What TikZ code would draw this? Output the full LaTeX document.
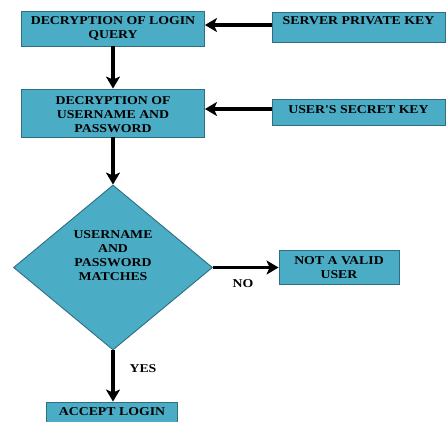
\documentclass[tikz,border=0pt]{standalone}
\usepackage{fontspec}
\usetikzlibrary{shapes.geometric,arrows.meta}
\newfontfamily\flowfont{Liberation Serif}[FakeStretch=1.15]
\definecolor{boxfill}{HTML}{4BACC6}
\definecolor{boxline}{HTML}{2F6E80}
% text block raised by #1 above the node centre (last baseline)
\newcommand{\blocktext}[2]{\raisebox{#1}[0pt][0pt]{\begin{tabular}[b]{@{}c@{}}#2\end{tabular}}}
\tikzset{
  box/.style={draw=boxline, fill=boxfill, line width=0.9pt, inner sep=0pt,
    font=\flowfont\bfseries\fontsize{12}{14}\selectfont},
  decision/.style={diamond, draw=boxline, fill=boxfill, line width=0.9pt, inner sep=0pt,
    minimum width=199pt, minimum height=165pt,
    font=\flowfont\bfseries\fontsize{12}{14}\selectfont},
  flow/.style={line width=3.4pt, -{Stealth[length=12pt,width=14pt,inset=3pt]}},
  tag/.style={font=\flowfont\bfseries\fontsize{12}{14}\selectfont, inner sep=0pt}
}
\begin{document}
\begin{tikzpicture}[x=1pt,y=-1pt]
\useasboundingbox (0,0) rectangle (446,421);

\node[box, minimum width=183pt, minimum height=35pt] (query) at (113,28.5)
  {\blocktext{-10.2pt}{DECRYPTION OF LOGIN\\QUERY}};
\node[box, minimum width=173pt, minimum height=30pt] (skey) at (358.5,27)
  {\blocktext{2.2pt}{SERVER PRIVATE KEY}};
\node[box, minimum width=183pt, minimum height=48pt] (cred) at (113,113)
  {\blocktext{-19.5pt}{DECRYPTION OF\\USERNAME AND\\PASSWORD}};
\node[box, minimum width=173pt, minimum height=26pt] (ukey) at (358.5,112)
  {\blocktext{-1.2pt}{USER'S SECRET KEY}};
\node[decision] (match) at (113,267.5)
  {\blocktext{-13pt}{USERNAME\\AND\\PASSWORD\\MATCHES}};
\node[box, minimum width=120pt, minimum height=34pt] (invalid) at (339,267)
  {\blocktext{-11pt}{NOT A VALID\\USER}};
\node[box, minimum width=131pt, minimum height=30pt] (accept) at (112,417)
  {\blocktext{2pt}{ACCEPT LOGIN}};

\node[tag] (no) at (243,283.5) {NO};
\node[tag] (yes) at (143,368.5) {YES};

\draw[flow] ([yshift=2pt]skey.west) -- ([yshift=2pt]skey.west -| query.east);
\draw[flow] ([yshift=3pt]ukey.west) -- ([yshift=3pt]ukey.west -| cred.east);
\draw[flow] (query.south) -- (cred.north);
\draw[flow] (cred.south) -- (match.north);
\draw[flow] (match.east) -- (match.east -| invalid.west);
\draw[flow] (match.south) -- (match.south |- accept.north);
\end{tikzpicture}
\end{document}
